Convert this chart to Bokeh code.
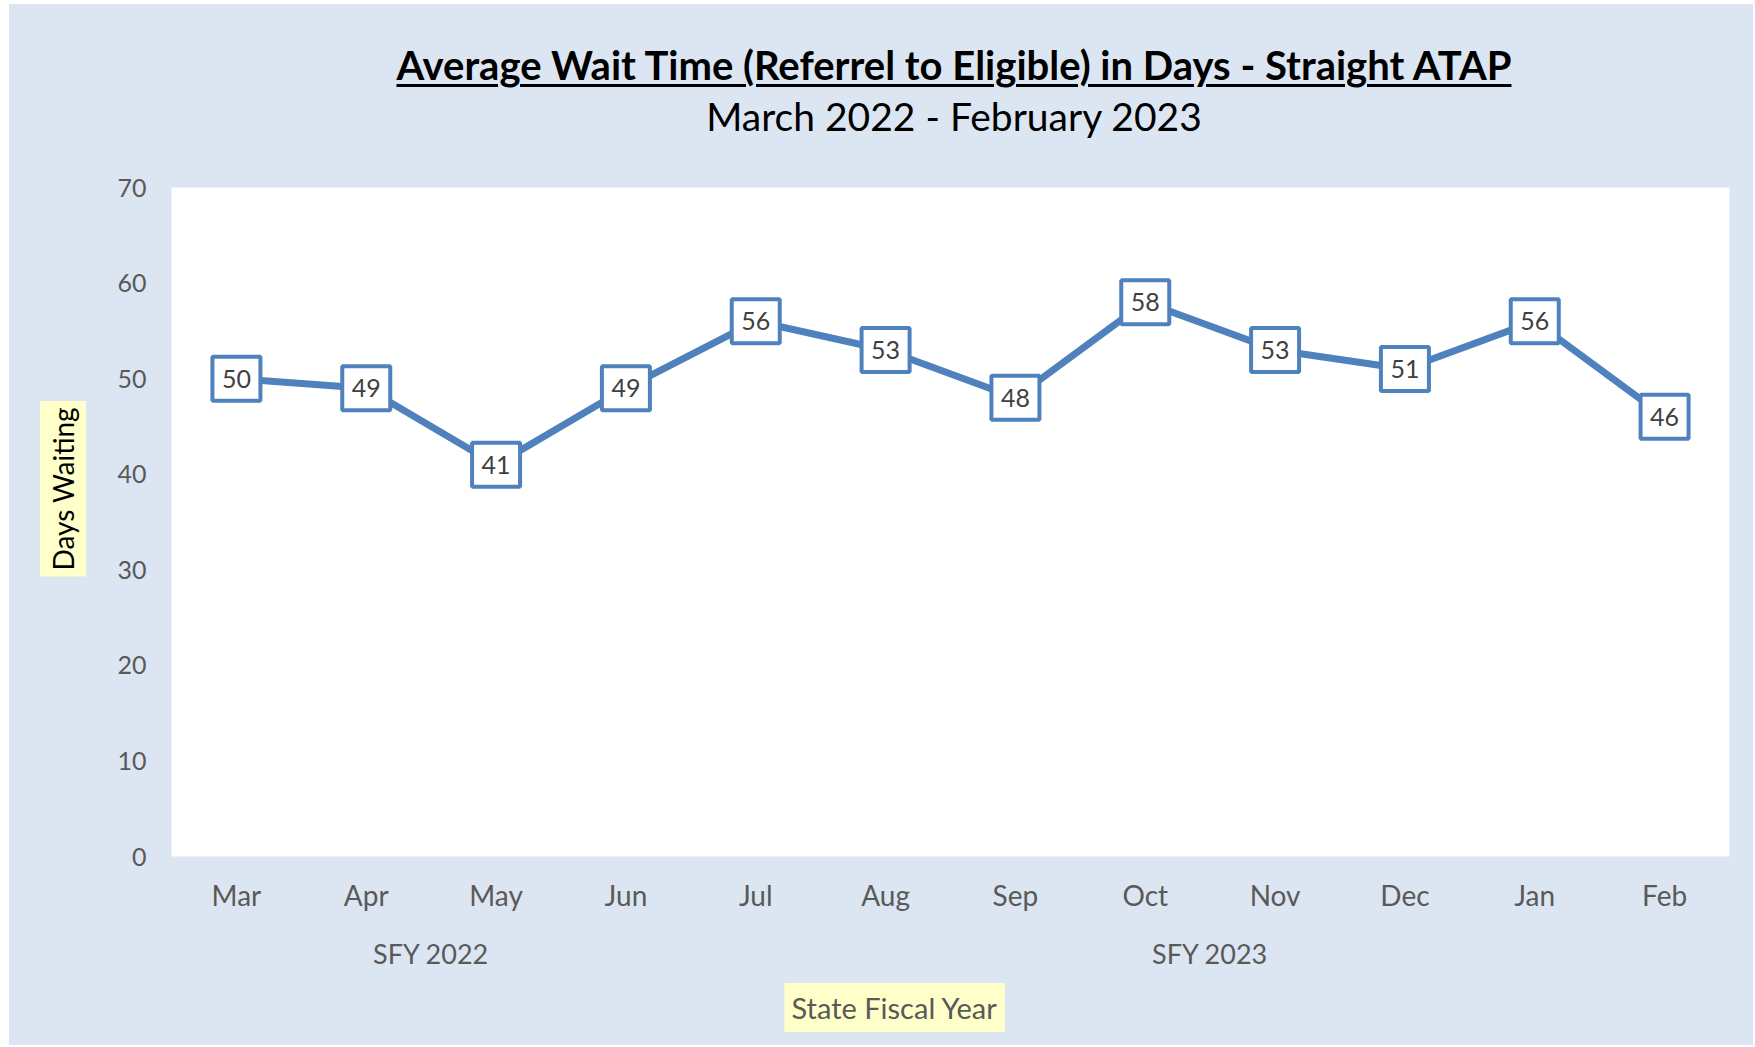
from bokeh.plotting import figure
from bokeh.models import (FixedTicker, ColumnDataSource, LinearAxis, Title, Div)
from bokeh.layouts import column
from bokeh.core.properties import value
from bokeh.embed import file_html
from bokeh.resources import INLINE

months = ["Mar", "Apr", "May", "Jun", "Jul", "Aug", "Sep", "Oct", "Nov", "Dec", "Jan", "Feb"]
wait_days = [50, 49, 41, 49, 56, 53, 48, 58, 53, 51, 56, 46]
y_ticks = [0, 10, 20, 30, 40, 50, 60, 70]
title_text = "Average Wait Time (Referrel to Eligible) in Days - Straight ATAP"
subtitle_text = "March 2022 - February 2023"
fy_groups = ["SFY 2022", "SFY 2023"]
fy_months = [["Mar", "Apr", "May", "Jun"],
             ["Jul", "Aug", "Sep", "Oct", "Nov", "Dec", "Jan", "Feb"]]
x_title = "State Fiscal Year"
y_title = "Days Waiting"

FONT = "Lato"
BG = "#DCE6F2"
BLUE = "#4F81BD"
GRAY = "#595959"
YELLOW = "#FFFFC9"

W = 1744
TOP_H = 155

# category slots: month i occupies [i, i+1]
xpos = [i + 0.5 for i in range(len(months))]
src = ColumnDataSource(dict(x=xpos, v=wait_days, t=[str(v) for v in wait_days]))

header = Div(
    text=(f'<div style="width:{W}px;box-sizing:border-box;padding:37px 0 0 146px;'
          f'font-family:Lato,sans-serif;color:#000;text-align:center;">'
          f'<div style="font-size:40px;font-weight:bold;line-height:48px;">'
          f'<span style="text-decoration:underline;text-decoration-thickness:3px;text-underline-offset:4px;">'
          f'{title_text}</span></div>'
          f'<div style="font-size:39px;line-height:48px;margin-top:3px;">{subtitle_text}</div></div>'),
    width=W, height=TOP_H, styles={"background-color": BG}, margin=0)

p = figure(x_range=(0, len(months)), y_range=(0, 70), width=W, height=886,
           output_backend="svg", toolbar_location=None, margin=0, x_axis_location=None,
           min_border_left=159, min_border_right=24, min_border_top=28, min_border_bottom=189)
p.background_fill_color = "white"
p.border_fill_color = BG
p.outline_line_color = None
p.grid.grid_line_color = None

def style_axis(ax, size):
    ax.axis_line_color = None
    ax.major_tick_line_color = None
    ax.minor_tick_line_color = None
    ax.major_tick_out = 0
    ax.major_tick_in = 0
    ax.minor_tick_out = 0
    ax.minor_tick_in = 0
    ax.major_label_text_font = FONT
    ax.major_label_text_color = GRAY
    ax.major_label_text_font_size = size

p.yaxis.ticker = FixedTicker(ticks=y_ticks)
style_axis(p.yaxis[0], "25px")
p.yaxis.major_label_standoff = 25

month_axis = LinearAxis(ticker=FixedTicker(ticks=xpos),
                        major_label_overrides={x: m for x, m in zip(xpos, months)})
style_axis(month_axis, "28px")
month_axis.major_label_standoff = 21
p.add_layout(month_axis, "below")

fy_ticks = []
start = 0
for grp in fy_months:
    fy_ticks.append(start + len(grp) / 2)
    start += len(grp)
fy_axis = LinearAxis(ticker=FixedTicker(ticks=fy_ticks),
                     major_label_overrides={t: g for t, g in zip(fy_ticks, fy_groups)})
style_axis(fy_axis, "27px")
fy_axis.major_label_standoff = 22
p.add_layout(fy_axis, "below")

p.add_layout(Title(text=x_title, align="left", offset=613, standoff=17, text_font=FONT,
                   text_font_size="29px", text_font_style="normal", text_color=GRAY,
                   background_fill_color=YELLOW, padding=7), "below")
p.add_layout(Title(text=y_title, align="left", offset=280, standoff=57, text_font=FONT,
                   text_font_size="28px", text_font_style="normal", text_color="black",
                   background_fill_color=YELLOW, padding=6), "left")

p.line("x", "v", source=src, line_color=BLUE, line_width=7)
p.rect("x", "v", source=src, width=48, height=44, width_units="screen", height_units="screen",
       fill_color="white", line_color=BLUE, line_width=4)
p.text("x", "v", text="t", source=src, text_align="center", text_baseline="middle",
       text_font=value(FONT), text_font_size="25px", text_color="#404040")

layout = column(header, p, spacing=0, margin=(4, 0, 0, 9), styles={"background-color": BG})
open("out.html", "w").write(file_html(layout, INLINE))
